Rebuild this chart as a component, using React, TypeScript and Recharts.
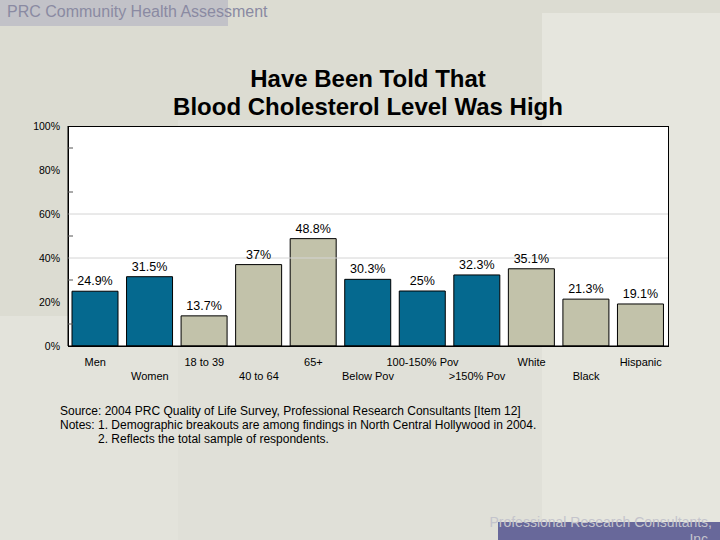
import React from 'react';
import { BarChart, Bar, XAxis, YAxis, Cell, LabelList, ReferenceLine } from 'recharts';

const categories = ['Men', 'Women', '18 to 39', '40 to 64', '65+', 'Below Pov', '100-150% Pov', '>150% Pov', 'White', 'Black', 'Hispanic'];
const values = [24.9, 31.5, 13.7, 37, 48.8, 30.3, 25, 32.3, 35.1, 21.3, 19.1];
const groups = ['sex', 'sex', 'age', 'age', 'age', 'poverty', 'poverty', 'poverty', 'race', 'race', 'race'];
const yTicks = [0, 10, 20, 30, 40, 50, 60, 70, 80, 90, 100];
const gridValues = [40, 60];

const groupColor: Record<string, string> = {
  sex: '#05698f',
  poverty: '#05698f',
  age: '#c2c2aa',
  race: '#c2c2aa',
};

const data = categories.map((name, i) => ({ name, value: values[i], group: groups[i] }));

const FONT = '"Liberation Sans", Arial, sans-serif';

const XTick = (props: any) => {
  const { x, y, payload, index } = props;
  const dy = index % 2 === 0 ? 20 : 34;
  return (
    <text x={x} y={y + dy} textAnchor="middle" fontSize={11} fontFamily={FONT} fill="#000">
      {payload.value}
    </text>
  );
};

const YTick = (props: any) => {
  const { x, y, payload } = props;
  const v = payload.value;
  if (v % 20 === 0) {
    return (
      <text x={x} y={y + 4} textAnchor="end" fontSize={10.5} fontFamily={FONT} fill="#000">
        {v}%
      </text>
    );
  }
  return <line x1={x + 8} x2={x + 13} y1={y} y2={y} stroke="#555" strokeWidth={1} />;
};

export default function App() {
  return (
    <div style={{ position: 'fixed', left: 0, top: 0, width: 720, height: 540, overflow: 'hidden', background: '#dcdcd2', fontFamily: FONT }}>
      {/* slide background panels */}
      <div style={{ position: 'absolute', left: 542, top: 13, width: 178, height: 527, background: '#e6e6de' }} />
      <div style={{ position: 'absolute', left: 0, top: 316, width: 178, height: 224, background: '#e3e3db' }} />
      <div style={{ position: 'absolute', left: 178, top: 120, width: 364, height: 420, background: '#e0e0d8' }} />
      <div style={{ position: 'absolute', left: 0, top: 0, width: 228, height: 26, background: '#c2c2c8' }} />
      <div style={{ position: 'absolute', left: 7, top: 3, fontSize: 16, color: '#8a8aa2', whiteSpace: 'nowrap' }}>
        PRC Community Health Assessment
      </div>

      {/* title */}
      <div style={{ position: 'absolute', left: 68, width: 600, top: 65, textAlign: 'center', fontSize: 24, fontWeight: 'bold', lineHeight: '28px', color: '#000' }}>
        Have Been Told That
        <br />
        Blood Cholesterol Level Was High
      </div>

      {/* plot frame */}
      <div style={{ position: 'absolute', left: 68, top: 126, width: 599, height: 219, background: '#fff', border: '1px solid #000' }} />

      <div style={{ position: 'absolute', left: 0, top: 0 }}>
        <BarChart width={720} height={540} data={data} margin={{ top: 126, right: 52, bottom: 164, left: 8 }} barSize={46}>
          {gridValues.map((g) => (
            <ReferenceLine key={g} y={g} stroke="#d4d4d4" strokeWidth={1} ifOverflow="extendDomain" />
          ))}
          <XAxis dataKey="name" height={30} interval={0} tickLine={false} tickSize={0} tickMargin={0} axisLine={{ stroke: '#000' }} tick={<XTick />} />
          <YAxis width={60} domain={[0, 100]} ticks={yTicks} interval={0} tickLine={false} tickSize={0} tickMargin={8} axisLine={{ stroke: '#000' }} tick={<YTick />} />
          <Bar dataKey="value" stroke="#000" strokeWidth={1} isAnimationActive={false}>
            {data.map((d, i) => (
              <Cell key={i} fill={groupColor[d.group]} />
            ))}
            <LabelList dataKey="value" position="top" offset={6} formatter={(v: any) => `${v}%`} fontSize={12.5} fontFamily={FONT} fill="#000" />
          </Bar>
        </BarChart>
      </div>

      {/* notes */}
      <div style={{ position: 'absolute', left: 60, top: 404, fontSize: 12, lineHeight: '14px', color: '#000', whiteSpace: 'nowrap' }}>
        <div>Source: 2004 PRC Quality of Life Survey, Professional Research Consultants [Item 12]</div>
        <div style={{ display: 'flex' }}>
          <span style={{ flex: '0 0 38px' }}>Notes:</span>
          <span>1. Demographic breakouts are among findings in North Central Hollywood in 2004.</span>
        </div>
        <div style={{ paddingLeft: 38 }}>2. Reflects the total sample of respondents.</div>
      </div>

      {/* footer */}
      <div style={{ position: 'absolute', left: 498, top: 522, width: 222, height: 18, background: '#68689a' }} />
      <div style={{ position: 'absolute', right: 8, top: 514, width: 240, textAlign: 'right', fontSize: 14, lineHeight: '17px', color: '#c4c4cc' }}>
        Professional Research Consultants, Inc.
      </div>
    </div>
  );
}
